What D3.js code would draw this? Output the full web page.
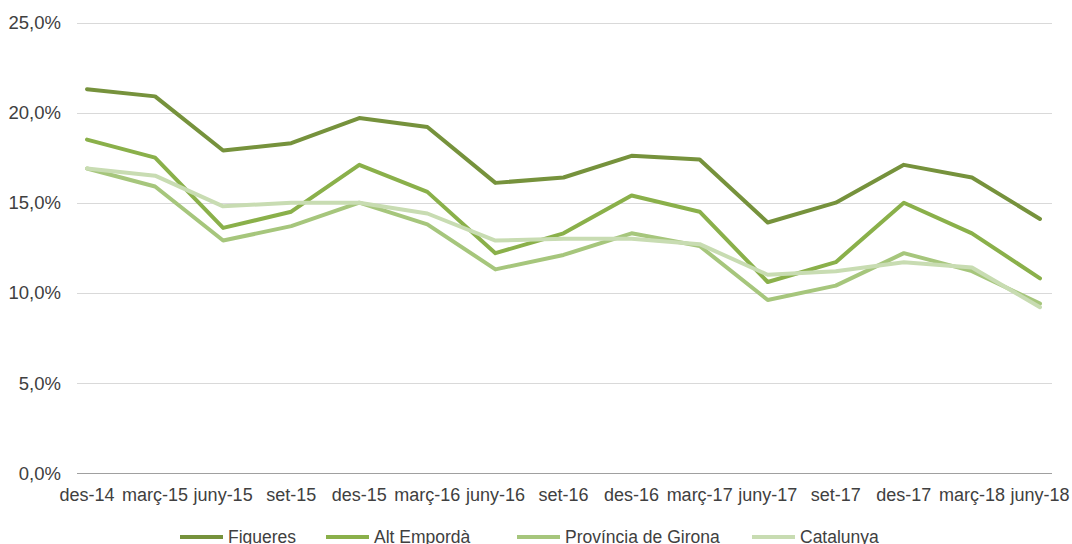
<!DOCTYPE html>
<html>
<head>
<meta charset="utf-8">
<script src="https://cdn.jsdelivr.net/npm/d3@7"></script>
<style>
  html, body { margin: 0; padding: 0; background: #fff; }
  svg { display: block; font-family: "Liberation Sans", Arial, sans-serif; }
</style>
</head>
<body>
<svg id="chart" width="1072" height="544"></svg>
<script>
const categories = ["des-14","març-15","juny-15","set-15","des-15","març-16","juny-16","set-16","des-16","març-17","juny-17","set-17","des-17","març-18","juny-18"];
const seriesNames = ["Figueres","Alt Empordà","Província de Girona","Catalunya"];
const figueres  = [21.3,20.9,17.9,18.3,19.7,19.2,16.1,16.4,17.6,17.4,13.9,15.0,17.1,16.4,14.1];
const altEmporda = [18.5,17.5,13.6,14.5,17.1,15.6,12.2,13.3,15.4,14.5,10.6,11.7,15.0,13.3,10.8];
const girona    = [16.9,15.9,12.9,13.7,15.0,13.8,11.3,12.1,13.3,12.6,9.6,10.4,12.2,11.2,9.4];
const catalunya = [16.9,16.5,14.8,15.0,15.0,14.4,12.9,13.0,13.0,12.7,11.0,11.2,11.7,11.4,9.2];
const yTicks = [0,5,10,15,20,25];
const colors = ["#76923C","#8AB04A","#A6C67C","#C8DCB2"];

const series = [figueres, altEmporda, girona, catalunya];
const svg = d3.select("#chart");

const gridLeft = 77, gridRight = 1052;
const x = d3.scalePoint().domain(categories).range([87, 1040]);
const y = d3.scaleLinear().domain([0, 25]).range([473, 22.5]);

// gridlines
svg.append("g").selectAll("line").data(yTicks.filter(d => d > 0)).join("line")
  .attr("x1", gridLeft).attr("x2", gridRight)
  .attr("y1", d => Math.round(y(d)) + 0.5).attr("y2", d => Math.round(y(d)) + 0.5)
  .attr("stroke", "#D9D9D9").attr("stroke-width", 1);

// zero axis line
svg.append("line")
  .attr("x1", gridLeft).attr("x2", gridRight)
  .attr("y1", Math.round(y(0)) + 0.5).attr("y2", Math.round(y(0)) + 0.5)
  .attr("stroke", "#A0A0A0").attr("stroke-width", 1);

// y labels
const fmt = d => d.toFixed(1).replace(".", ",") + "%";
svg.append("g").selectAll("text").data(yTicks).join("text")
  .attr("x", 61).attr("y", d => y(d)).attr("dy", "0.36em")
  .attr("text-anchor", "end").attr("font-size", 18.5).attr("fill", "#404040")
  .text(fmt);

// x labels
svg.append("g").selectAll("text").data(categories).join("text")
  .attr("x", d => x(d)).attr("y", 495).attr("dy", "0.36em")
  .attr("text-anchor", "middle").attr("font-size", 18).attr("fill", "#404040")
  .text(d => d);

const line = d3.line().x((d, i) => x(categories[i])).y(d => y(d));
series.forEach((s, k) => {
  svg.append("path").datum(s)
    .attr("d", line)
    .attr("fill", "none")
    .attr("stroke", colors[k])
    .attr("stroke-width", 4)
    .attr("stroke-linejoin", "round")
    .attr("stroke-linecap", "round");
});

// legend
const legendX = [180, 326, 517, 752];
const lg = svg.append("g");
seriesNames.forEach((n, k) => {
  lg.append("line")
    .attr("x1", legendX[k]).attr("x2", legendX[k] + 43)
    .attr("y1", 537).attr("y2", 537)
    .attr("stroke", colors[k]).attr("stroke-width", 4);
  lg.append("text")
    .attr("x", legendX[k] + 48).attr("y", 537).attr("dy", "0.36em")
    .attr("font-size", 17.5).attr("fill", "#404040")
    .text(n);
});
</script>
</body>
</html>
